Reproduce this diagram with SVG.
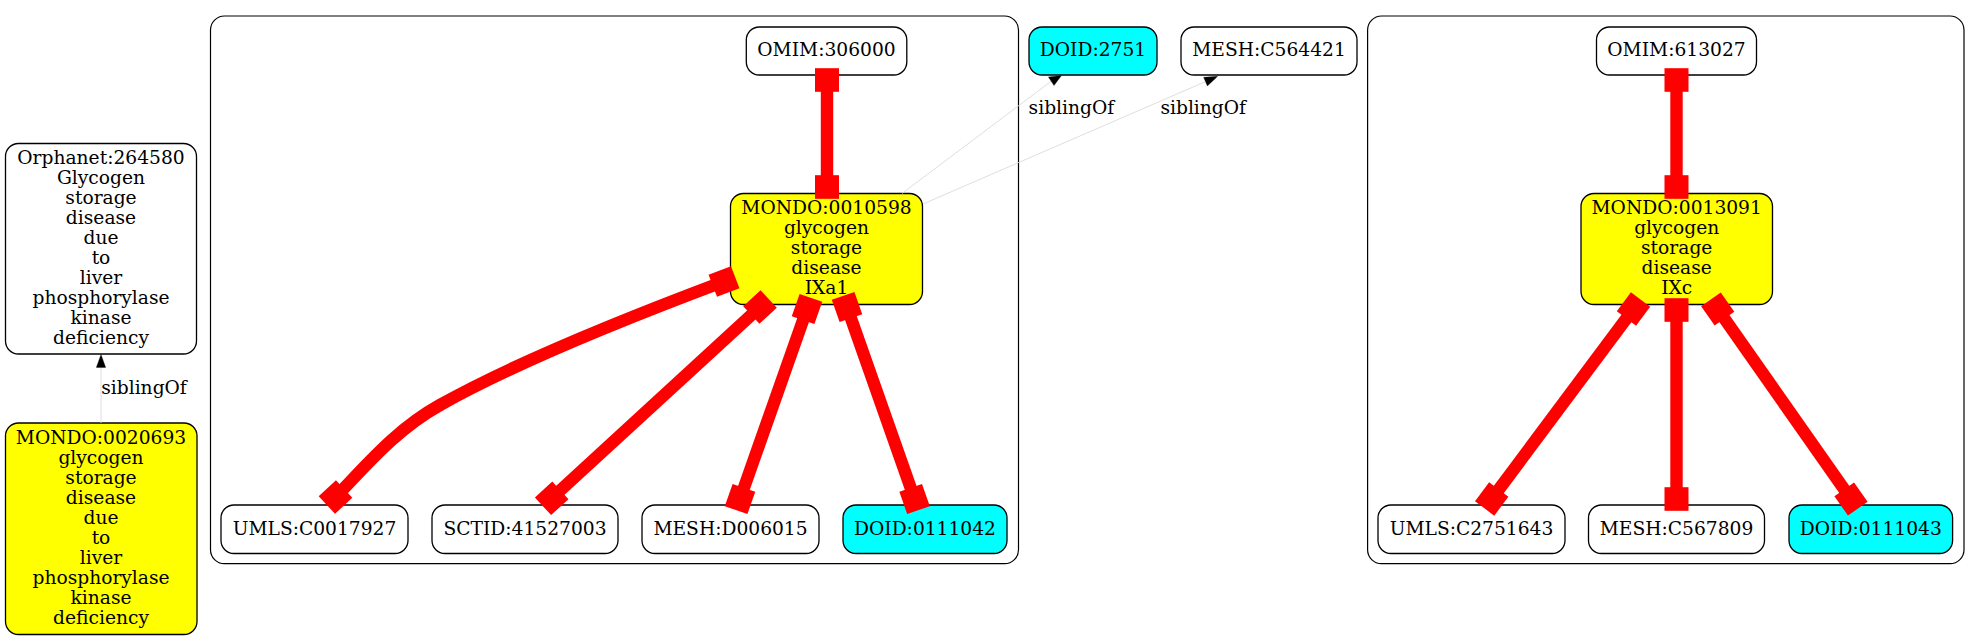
<svg xmlns="http://www.w3.org/2000/svg" xmlns:xlink="http://www.w3.org/1999/xlink" width="1981" height="637" viewBox="0 0 1981 637">
<style>
.bg{fill:#ffffff}
.cl{fill:none;stroke:#000;stroke-width:1.2}
.n{fill:#ffffff;stroke:#000;stroke-width:1.3}
.y{fill:#ffff00}
.c{fill:#00ffff}
text{font-family:"DejaVu Serif","Liberation Serif",serif;font-size:18.67px;fill:#000;text-anchor:middle}
.re{fill:none;stroke:#ff0000;stroke-width:12.4}
.sq{fill:#ff0000}
.sl{fill:none;stroke:#dadada;stroke-width:0.9}
.ah{fill:#000;stroke:#000;stroke-width:0.3}
</style>
<defs>
<rect id="sq" class="sq" x="-12" y="-11.8" width="24" height="23.6"/>
</defs>
<rect class="bg" x="0" y="0" width="1981" height="637"/>
<g id="cluster_1"><rect class="cl" x="210.5" y="16" width="808" height="547.7" rx="14"/></g>
<g id="cluster_2"><rect class="cl" x="1367.6" y="16" width="596.4" height="547.7" rx="14"/></g>

<g id="node_orphanet_264580">
<rect class="n" x="5.5" y="143.5" width="191" height="210.5" rx="13"/>
<text x="101" y="164">Orphanet:264580</text>
<text x="101" y="184">Glycogen</text>
<text x="101" y="204">storage</text>
<text x="101" y="224">disease</text>
<text x="101" y="244">due</text>
<text x="101" y="264">to</text>
<text x="101" y="284">liver</text>
<text x="101" y="304">phosphorylase</text>
<text x="101" y="324">kinase</text>
<text x="101" y="344">deficiency</text>
</g>
<g id="node_mondo_0020693">
<rect class="n y" x="5.5" y="423" width="191.5" height="211.5" rx="13"/>
<text x="101" y="444.3">MONDO:0020693</text>
<text x="101" y="464.3">glycogen</text>
<text x="101" y="484.3">storage</text>
<text x="101" y="504.3">disease</text>
<text x="101" y="524.3">due</text>
<text x="101" y="544.3">to</text>
<text x="101" y="564.3">liver</text>
<text x="101" y="584.3">phosphorylase</text>
<text x="101" y="604.3">kinase</text>
<text x="101" y="624.3">deficiency</text>
</g>

<g id="node_omim_306000"><rect class="n" x="746.3" y="27" width="160.5" height="48" rx="13"/><text x="826.5" y="56.3">OMIM:306000</text></g>
<g id="node_mondo_0010598">
<rect class="n y" x="730.5" y="193.5" width="192" height="111" rx="13"/>
<text x="826.5" y="214.3">MONDO:0010598</text>
<text x="826.5" y="234.3">glycogen</text>
<text x="826.5" y="254.3">storage</text>
<text x="826.5" y="274.3">disease</text>
<text x="826.5" y="294.3">IXa1</text>
</g>
<g id="node_umls_c0017927"><rect class="n" x="221" y="505" width="187" height="48.5" rx="13"/><text x="314.5" y="534.6">UMLS:C0017927</text></g>
<g id="node_sctid_41527003"><rect class="n" x="432" y="505" width="186" height="48.5" rx="13"/><text x="525" y="534.6">SCTID:41527003</text></g>
<g id="node_mesh_d006015"><rect class="n" x="642" y="505" width="177" height="48.5" rx="13"/><text x="730.5" y="534.6">MESH:D006015</text></g>
<g id="node_doid_0111042"><rect class="n c" x="843" y="505" width="164" height="48.5" rx="13"/><text x="925" y="534.6">DOID:0111042</text></g>

<g id="node_doid_2751"><rect class="n c" x="1029" y="27" width="128" height="48" rx="13"/><text x="1093" y="56.3">DOID:2751</text></g>
<g id="node_mesh_c564421"><rect class="n" x="1181" y="27" width="176" height="48" rx="13"/><text x="1269" y="56.3">MESH:C564421</text></g>

<g id="node_omim_613027"><rect class="n" x="1596.5" y="27" width="160" height="48" rx="13"/><text x="1676.5" y="56.3">OMIM:613027</text></g>
<g id="node_mondo_0013091">
<rect class="n y" x="1581" y="193.5" width="191.5" height="111" rx="13"/>
<text x="1676.7" y="214.3">MONDO:0013091</text>
<text x="1676.7" y="234.3">glycogen</text>
<text x="1676.7" y="254.3">storage</text>
<text x="1676.7" y="274.3">disease</text>
<text x="1676.7" y="294.3">IXc</text>
</g>
<g id="node_umls_c2751643"><rect class="n" x="1378" y="505" width="187" height="48.5" rx="13"/><text x="1471.5" y="534.6">UMLS:C2751643</text></g>
<g id="node_mesh_c567809"><rect class="n" x="1588.5" y="505" width="176" height="48.5" rx="13"/><text x="1676.5" y="534.6">MESH:C567809</text></g>
<g id="node_doid_0111043"><rect class="n c" x="1789" y="505" width="163.6" height="48.5" rx="13"/><text x="1870.8" y="534.6">DOID:0111043</text></g>

<g id="connectors">
<!-- red xref edges -->
<path class="re" d="M827,80 L827,187"/>
<use xlink:href="#sq" transform="translate(827,80)"/>
<use xlink:href="#sq" transform="translate(827,187)"/>

<path class="re" d="M724,281.5 C640,313 520,360 440,405 C395,430 365,467 335.5,497"/>
<use xlink:href="#sq" transform="translate(724,281.5) rotate(-21)"/>
<use xlink:href="#sq" transform="translate(335.5,497) rotate(47)"/>

<path class="re" d="M760,307 L551.7,498.3"/>
<use xlink:href="#sq" transform="translate(760,307) rotate(47.4)"/>
<use xlink:href="#sq" transform="translate(551.7,498.3) rotate(47.4)"/>

<path class="re" d="M807,309 L740,499"/>
<use xlink:href="#sq" transform="translate(807,309) rotate(19.4)"/>
<use xlink:href="#sq" transform="translate(740,499) rotate(19.4)"/>

<path class="re" d="M847,307 L914.6,499"/>
<use xlink:href="#sq" transform="translate(847,307) rotate(-19.4)"/>
<use xlink:href="#sq" transform="translate(914.6,499) rotate(-19.4)"/>

<path class="re" d="M1676.5,80 L1676.5,187"/>
<use xlink:href="#sq" transform="translate(1676.5,80)"/>
<use xlink:href="#sq" transform="translate(1676.5,187)"/>

<path class="re" d="M1633.5,309 L1491.7,499"/>
<use xlink:href="#sq" transform="translate(1633.5,309) rotate(36.7)"/>
<use xlink:href="#sq" transform="translate(1491.7,499) rotate(36.7)"/>

<path class="re" d="M1676.5,310 L1676.5,499"/>
<use xlink:href="#sq" transform="translate(1676.5,310)"/>
<use xlink:href="#sq" transform="translate(1676.5,499)"/>

<path class="re" d="M1717.7,309 L1851,499"/>
<use xlink:href="#sq" transform="translate(1717.7,309) rotate(-35)"/>
<use xlink:href="#sq" transform="translate(1851,499) rotate(-35)"/>

<!-- siblingOf edges -->
<path class="sl" d="M101,423 L101,367"/>
<polygon class="ah" points="101,354.5 105.7,367.5 96.3,367.5"/>
<text x="144" y="394">siblingOf</text>

<path class="sl" d="M902,193.5 L1051.2,81.2"/>
<polygon class="ah" points="1061.5,75.6 1054,85.6 1048.4,76.9"/>
<text x="1071.4" y="114">siblingOf</text>

<path class="sl" d="M923,204 L1205.5,81.6"/>
<polygon class="ah" points="1217.7,76.3 1207.4,85.9 1203.6,77.3"/>
<text x="1203.2" y="114">siblingOf</text>
</g>
</svg>
